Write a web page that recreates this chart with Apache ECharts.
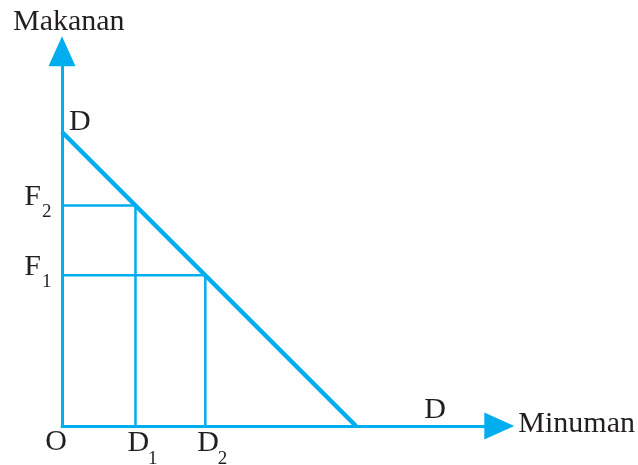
<!DOCTYPE html>
<html>
<head>
<meta charset="utf-8">
<script src="https://cdn.jsdelivr.net/npm/echarts@6/dist/echarts.min.js"></script>
<style>
html, body { margin: 0; padding: 0; background: #fff; }
#chart { width: 638px; height: 465px; }
</style>
</head>
<body>
<div id="chart"></div>
<script>
// garis anggaran D-D : minuman (x) vs makanan (y)
const demandX = [0, 8]
const demandY = [8, 0]
// dua titik kombinasi: F2/D1 dan F1/D2
const foodLevels = [6, 4.1]
const drinkLevels = [2, 3.9]
const foodSubs = ['2', '1']
const drinkSubs = ['1', '2']
const axisNames = ['Minuman', 'Makanan']
const xMax = 11.9
const yMax = 10.2

const blue = '#00aeef'
const ink = '#231f20'
const serif = '"Liberation Serif", "Times New Roman", serif'

const chart = echarts.init(document.getElementById('chart'))

const guides = foodLevels.map((f, i) => ({
  type: 'line',
  data: [[0, f], [drinkLevels[i], f], [drinkLevels[i], 0]],
  symbol: 'none',
  lineStyle: { color: blue, width: 2.5 },
  silent: true
}))

function axis (max) {
  return {
    type: 'value',
    min: 0,
    max: max,
    axisLine: {
      show: true,
      onZero: false,
      symbol: ['none', 'triangle'],
      symbolSize: [27, 30],
      lineStyle: { color: blue, width: 3 }
    },
    axisTick: { show: false },
    axisLabel: { show: false },
    splitLine: { show: false }
  }
}

chart.setOption({
  animation: false,
  grid: { left: 62, right: 138.7, top: 51.15, bottom: 39 },
  xAxis: axis(xMax),
  yAxis: axis(yMax),
  series: guides.concat([{
    type: 'line',
    data: demandX.map((x, i) => [x, demandY[i]]),
    symbol: 'none',
    lineStyle: { color: blue, width: 4.5 },
    silent: true
  }])
})

// teks label, ditempatkan relatif terhadap titik data
const px = (x, y) => chart.convertToPixel({ gridIndex: 0 }, [x, y])
function label (str, p, dx, dy, size, align) {
  return {
    type: 'text',
    x: p[0] + dx,
    y: p[1] + dy,
    silent: true,
    style: {
      text: str,
      font: size + 'px ' + serif,
      fill: ink,
      align: align,
      verticalAlign: 'middle'
    }
  }
}

const texts = []
const yEnd = px(0, yMax)
const xEnd = px(xMax, 0)
const origin = px(0, 0)
texts.push(label(axisNames[1], yEnd, -49, -29.5, 30, 'left'))
texts.push(label(axisNames[0], xEnd, 19, -2, 30, 'left'))
texts.push(label('D', px(demandX[0], demandY[0]), 7, -10, 30, 'left'))
texts.push(label('D', xEnd, -75, -16, 30, 'left'))
texts.push(label('O', origin, 5, 16.5, 30, 'right'))
foodLevels.forEach((f, i) => {
  const p = px(0, f)
  texts.push(label('F', p, -21, -8, 30, 'right'))
  texts.push(label(foodSubs[i], p, -20, 7, 19, 'left'))
})
drinkLevels.forEach((d, i) => {
  const p = px(d, 0)
  texts.push(label('D', p, -8, 17, 30, 'left'))
  texts.push(label(drinkSubs[i], p, 12.5, 33, 19, 'left'))
})

chart.setOption({ graphic: texts })
</script>
</body>
</html>
